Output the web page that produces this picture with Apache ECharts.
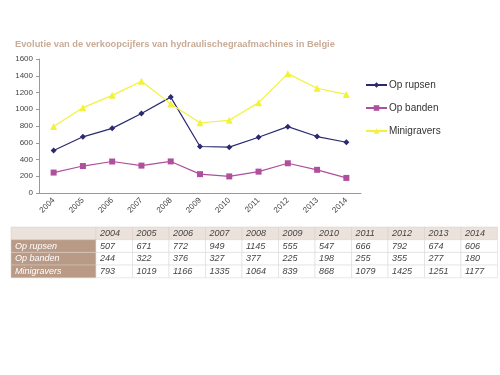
<!DOCTYPE html>
<html>
<head>
<meta charset="utf-8">
<script src="https://cdn.jsdelivr.net/npm/echarts@6/dist/echarts.min.js"></script>
<style>
html, body { margin: 0; padding: 0; background: #fff; }
#chart { width: 500px; height: 375px; }
</style>
</head>
<body>
<div id="chart"></div>
<script>
var years = ['2004', '2005', '2006', '2007', '2008', '2009', '2010', '2011', '2012', '2013', '2014'];
var opRupsen = [507, 671, 772, 949, 1145, 555, 547, 666, 792, 674, 606];
var opBanden = [244, 322, 376, 327, 377, 225, 198, 255, 355, 277, 180];
var minigravers = [793, 1019, 1166, 1335, 1064, 839, 868, 1079, 1425, 1251, 1177];
var seriesNames = ['Op rupsen', 'Op banden', 'Minigravers'];

var myChart = echarts.init(document.getElementById('chart'));

// data table under the chart
var tableRows = [opRupsen, opBanden, minigravers];
var tx = 11, ty = 227, firstW = 85, colW = 36.5, rowH = 12.7;
var cells = [];
cells.push({type: 'rect', shape: {x: tx, y: ty, width: firstW, height: rowH},
    style: {fill: '#ece2dc', stroke: '#d8ccc4', lineWidth: 0.5}});
for (var c = 0; c < years.length; c++) {
    var cx = tx + firstW + c * colW;
    cells.push({type: 'rect', shape: {x: cx, y: ty, width: colW, height: rowH},
        style: {fill: '#ece2dc', stroke: '#d8ccc4', lineWidth: 0.5}});
    cells.push({type: 'text', x: cx + 4, y: ty + rowH / 2,
        style: {text: years[c], fill: '#444', font: 'italic 9px Arial', verticalAlign: 'middle'}});
}
for (var r = 0; r < tableRows.length; r++) {
    var ry = ty + (r + 1) * rowH;
    cells.push({type: 'rect', shape: {x: tx, y: ry, width: firstW, height: rowH},
        style: {fill: '#b99a86', stroke: '#d8ccc4', lineWidth: 0.5}});
    cells.push({type: 'text', x: tx + 4, y: ry + rowH / 2,
        style: {text: seriesNames[r], fill: '#fff', font: 'italic 9px Arial', verticalAlign: 'middle'}});
    for (var c = 0; c < years.length; c++) {
        var cx = tx + firstW + c * colW;
        cells.push({type: 'rect', shape: {x: cx, y: ry, width: colW, height: rowH},
            style: {fill: '#fff', stroke: '#d4d4d4', lineWidth: 0.5}});
        cells.push({type: 'text', x: cx + 4, y: ry + rowH / 2,
            style: {text: String(tableRows[r][c]), fill: '#444', font: 'italic 9px Arial', verticalAlign: 'middle'}});
    }
}

var option = {
    animation: false,
    textStyle: {fontFamily: 'Arial'},
    title: {
        text: 'Evolutie van de verkoopcijfers van hydraulischegraafmachines in Belgie',
        left: 10,
        top: 35,
        textStyle: {color: '#c9ab96', fontSize: 9.3, fontWeight: 'bold'}
    },
    legend: {
        orient: 'vertical',
        left: 360,
        top: 75,
        itemWidth: 21,
        itemHeight: 7,
        itemGap: 13,
        textStyle: {color: '#333', fontSize: 10, padding: [0, 0, 0, -3]},
        data: seriesNames
    },
    grid: {left: 39, right: 139, top: 59, bottom: 182},
    xAxis: {
        type: 'category',
        data: years,
        boundaryGap: true,
        axisLine: {lineStyle: {color: '#999'}},
        axisTick: {lineStyle: {color: '#999'}, length: 3},
        axisLabel: {rotate: 45, color: '#444', fontSize: 8, margin: 6}
    },
    yAxis: {
        type: 'value',
        min: 0,
        max: 1600,
        interval: 200,
        axisLine: {show: true, lineStyle: {color: '#999'}},
        axisTick: {show: true, length: 3, lineStyle: {color: '#999'}},
        axisLabel: {color: '#444', fontSize: 8, margin: 6, formatter: function (v) { return String(v); }},
        splitLine: {show: false}
    },
    series: [
        {
            name: 'Op rupsen', type: 'line', data: opRupsen,
            symbol: 'diamond', symbolSize: 6,
            lineStyle: {color: '#2b2a70', width: 1.2},
            itemStyle: {color: '#2b2a70'}
        },
        {
            name: 'Op banden', type: 'line', data: opBanden,
            symbol: 'rect', symbolSize: 6,
            lineStyle: {color: '#b0509c', width: 1.2},
            itemStyle: {color: '#b0509c'}
        },
        {
            name: 'Minigravers', type: 'line', data: minigravers,
            symbol: 'triangle', symbolSize: 7,
            lineStyle: {color: '#f2f23a', width: 1.2},
            itemStyle: {color: '#f2f23a'}
        }
    ],
    graphic: cells
};
myChart.setOption(option);
</script>
</body>
</html>
